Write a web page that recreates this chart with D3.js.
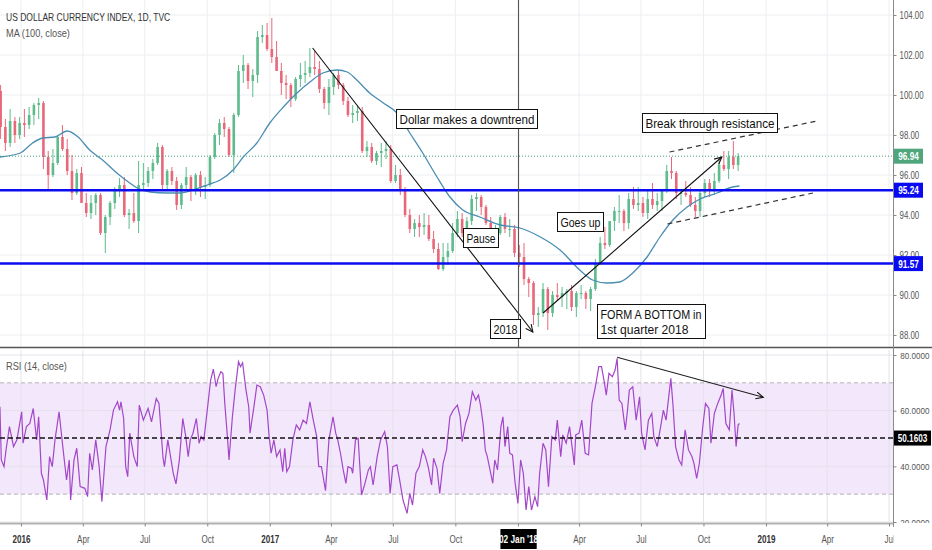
<!DOCTYPE html>
<html>
<head>
<meta charset="utf-8">
<script src="https://cdn.jsdelivr.net/npm/d3@7"></script>
<style>
  body { margin: 0; background: #fff; }
  svg { display: block; font-family: "Liberation Sans", Arial, sans-serif; }
</style>
</head>
<body>
<script>
// weekly candles, weeks start Monday 30 Nov 2015
var firstWeek = "2015-11-30";
var firstOpen = 100.2;
var highs = [100.5,98.8,99.3,98.9,98.9,99.3,99.4,99.6,99.85,99.7,
  97.2,97.3,98.0,98.5,97.8,97.0,96.3,96.4,95.1,95.0,
  95.1,95.1,94.0,94.7,95.4,95.85,95.9,94.3,95.1,96.7,
  96.6,96.4,96.8,97.6,97.5,96.3,96.4,95.9,95.6,96.4,
  96.0,96.1,96.2,95.9,97.0,98.1,98.8,98.9,98.4,99.1,
  101.5,102.0,101.6,101.3,103.2,103.5,103.6,103.85,102.7,101.6,
  101.0,100.6,100.9,101.6,101.7,102.35,102.2,101.7,100.4,100.8,
  101.1,101.2,100.6,99.9,99.5,99.5,99.4,97.7,97.6,97.2,
  97.6,97.7,97.5,96.5,96.3,95.4,94.3,93.8,94.0,94.1,
  94.0,93.2,92.6,92.6,92.6,93.6,94.2,94.1,93.9,95.0,
  95.1,95.0,94.5,93.9,93.5,94.0,94.1,93.8,93.5,92.5,
  92.6,90.9,90.7,89.4,90.6,90.4,90.2,90.6,90.4,90.3,
  90.5,90.2,90.5,90.2,90.4,91.8,92.9,93.4,93.7,94.4,
  95.0,94.3,95.1,95.4,95.4,94.9,95.3,95.6,95.1,95.3,
  96.5,96.9,96.2,95.2,95.7,95.4,94.9,95.2,95.8,95.8,
  96.1,96.9,97.2,97.2,97.7,97.1];
var lows = [97.8,97.2,97.4,97.6,97.8,97.9,98.3,98.5,98.8,96.3,
  95.3,95.9,96.5,97.2,96.0,94.75,95.0,94.6,93.9,93.8,
  94.0,93.0,92.1,93.5,94.3,94.9,93.9,93.3,93.6,93.1,
  95.3,95.4,95.8,96.5,95.3,95.2,95.5,94.25,94.3,95.3,
  94.7,95.0,94.9,94.8,95.4,96.8,97.5,97.9,96.9,96.1,
  98.9,100.6,100.3,99.9,100.6,102.6,102.2,101.6,101.2,100.0,
  99.8,99.4,99.7,100.4,100.6,100.9,101.0,100.1,99.3,99.0,
  100.0,100.3,99.5,98.9,98.6,98.7,97.1,96.9,96.6,96.5,
  96.4,96.8,95.6,95.6,95.0,93.9,93.1,92.9,92.9,93.0,
  92.7,92.1,91.25,91.2,91.5,92.1,92.9,92.9,92.9,93.5,
  94.2,94.0,93.5,92.9,92.9,93.0,93.1,92.9,91.9,91.4,
  90.5,89.9,88.5,88.4,88.9,88.25,88.9,89.7,89.4,89.3,
  89.2,88.9,89.8,89.3,89.2,90.2,91.5,92.3,92.4,93.2,
  93.6,93.2,93.3,94.3,94.2,93.9,93.8,94.3,94.2,94.2,
  95.1,95.8,94.8,94.5,94.9,94.4,93.9,93.9,94.9,94.9,
  95.0,95.6,96.2,95.8,96.3,96.2];
var closes = [98.4,97.6,98.7,98.0,98.6,98.5,99.0,99.5,99.6,96.9,
  96.0,96.6,97.9,97.3,96.2,95.1,96.1,94.6,94.1,94.6,
  95.0,93.1,93.9,94.6,95.3,95.5,94.0,94.1,93.7,95.5,
  95.6,96.2,96.6,97.4,95.5,96.2,95.7,94.5,95.5,95.9,
  95.3,96.0,95.4,95.5,96.9,98.0,98.6,98.3,97.0,99.0,
  101.2,101.5,100.7,101.0,102.9,103.0,102.3,101.9,101.2,100.6,
  100.5,99.8,100.8,101.0,101.1,101.4,101.3,100.3,99.6,100.4,
  101.0,100.5,99.7,99.0,99.1,99.2,97.2,97.4,96.7,97.1,
  97.2,97.3,95.7,96.0,95.2,94.0,93.3,93.6,93.4,93.5,
  92.8,92.3,91.3,91.9,92.2,93.1,93.8,93.1,93.7,94.8,
  94.9,94.4,93.6,93.0,93.1,93.9,93.3,93.3,92.1,91.9,
  90.8,90.6,89.0,89.1,90.3,89.1,90.0,89.9,90.1,90.2,
  89.4,90.1,90.1,89.8,90.3,91.6,92.6,92.5,93.7,94.2,
  94.2,93.6,94.8,94.5,94.6,94.1,94.8,94.5,94.7,95.2,
  96.2,96.1,95.1,95.1,95.0,94.5,94.2,95.1,95.6,95.2,
  95.7,96.5,96.3,96.9,96.5,96.94];

// MA (100, close)
var maPoints = [["2015-12-01",96.9],["2015-12-31",97.1],["2016-01-18",97.6],["2016-02-02",97.85],
  ["2016-02-20",97.9],["2016-03-09",98.2],["2016-03-25",97.9],["2016-04-11",97.25],["2016-04-30",96.75],
  ["2016-05-21",96.1],["2016-06-09",95.6],["2016-06-20",95.35],["2016-07-09",95.15],["2016-08-03",95.1],
  ["2016-08-22",95.1],["2016-09-10",95.25],["2016-10-01",95.5],["2016-10-20",95.75],["2016-11-08",96.25],
  ["2016-11-23",96.9],["2016-12-13",97.6],["2017-01-01",98.6],["2017-01-21",99.4],["2017-02-10",100.1],
  ["2017-03-01",100.65],["2017-03-20",101.1],["2017-04-10",101.25],["2017-04-25",101.15],["2017-05-09",100.75],
  ["2017-05-28",100.1],["2017-06-17",99.6],["2017-07-07",99.1],["2017-07-26",98.1],["2017-08-14",97.1],
  ["2017-09-04",95.9],["2017-09-23",94.9],["2017-10-12",94.25],["2017-11-06",93.9],["2017-12-06",93.5],
  ["2018-01-04",93.35],["2018-02-03",92.9],["2018-03-04",92.25],["2018-04-02",91.25],["2018-04-21",90.75],
  ["2018-05-12",90.6],["2018-05-31",90.65],["2018-06-19",91.1],["2018-07-10",91.9],["2018-07-29",92.9],
  ["2018-08-17",93.75],["2018-09-07",94.4],["2018-09-26",94.8],["2018-10-21",95.1],["2018-11-13",95.4],
  ["2018-11-23",95.45]];

// RSI (14, close) turning points
var rsiPoints = [["2015-12-01",61.4],["2015-12-03",42.3],["2015-12-07",39.9],["2015-12-10",45.9],["2015-12-15",54.3],
  ["2015-12-21",47.1],["2015-12-26",49.5],["2016-01-02",59.6],["2016-01-04",48.3],["2016-01-09",54.3],
  ["2016-01-14",55.4],["2016-01-19",60.8],["2016-01-24",49.5],["2016-01-27",57.8],["2016-01-31",37.5],
  ["2016-02-03",35.1],["2016-02-08",27.9],["2016-02-12",43.5],["2016-02-16",39.9],["2016-02-20",49.5],
  ["2016-02-26",59.6],["2016-03-03",45.9],["2016-03-08",35.1],["2016-03-12",42.3],["2016-03-14",27.9],
  ["2016-03-19",42.3],["2016-03-23",46.5],["2016-03-28",32.7],["2016-04-04",32.1],["2016-04-08",29.1],
  ["2016-04-11",44.7],["2016-04-15",38.7],["2016-04-20",49.5],["2016-04-25",39.9],["2016-04-29",27.3],
  ["2016-05-05",47.1],["2016-05-11",53.1],["2016-05-16",60.2],["2016-05-22",63.2],["2016-05-25",60.2],
  ["2016-05-27",63.2],["2016-05-31",57.2],["2016-06-03",39.9],["2016-06-06",36.3],["2016-06-09",51.9],
  ["2016-06-15",43.5],["2016-06-20",39.9],["2016-06-23",62.0],["2016-06-29",56.6],["2016-07-06",60.8],
  ["2016-07-11",56.0],["2016-07-18",64.4],["2016-07-22",62.6],["2016-07-28",42.9],["2016-07-30",39.9],
  ["2016-08-04",49.5],["2016-08-12",37.5],["2016-08-16",33.7],["2016-08-21",42.3],["2016-08-26",57.2],
  ["2016-08-30",51.3],["2016-09-03",43.5],["2016-09-06",49.5],["2016-09-10",51.9],["2016-09-15",57.2],
  ["2016-09-19",48.3],["2016-09-22",50.7],["2016-09-26",49.5],["2016-10-01",60.2],["2016-10-06",71.0],
  ["2016-10-10",74.9],["2016-10-14",68.6],["2016-10-17",71.6],["2016-10-21",74.0],["2016-10-24",73.4],
  ["2016-10-27",62.0],["2016-10-31",49.5],["2016-11-02",42.3],["2016-11-07",57.8],["2016-11-11",67.4],
  ["2016-11-16",77.6],["2016-11-19",75.8],["2016-11-22",77.2],["2016-11-27",67.4],["2016-12-01",61.4],
  ["2016-12-03",51.9],["2016-12-05",55.4],["2016-12-09",62.0],["2016-12-13",69.2],["2016-12-18",68.6],
  ["2016-12-23",65.6],["2016-12-28",60.2],["2016-12-31",50.7],["2017-01-03",44.7],["2017-01-07",49.5],
  ["2017-01-11",43.5],["2017-01-16",45.9],["2017-01-20",38.1],["2017-01-23",46.5],["2017-01-26",38.1],
  ["2017-01-30",39.9],["2017-02-04",49.5],["2017-02-09",54.9],["2017-02-14",53.1],["2017-02-19",56.6],
  ["2017-02-24",55.4],["2017-03-01",63.2],["2017-03-06",56.6],["2017-03-11",50.7],["2017-03-14",39.9],
  ["2017-03-18",39.9],["2017-03-24",31.3],["2017-03-29",49.5],["2017-04-04",57.8],["2017-04-08",51.9],
  ["2017-04-11",49.5],["2017-04-15",44.7],["2017-04-19",38.7],["2017-04-23",33.9],["2017-04-26",39.9],
  ["2017-05-01",39.3],["2017-05-03",37.5],["2017-05-07",49.5],["2017-05-11",50.1],["2017-05-16",29.7],
  ["2017-05-21",33.9],["2017-05-26",38.7],["2017-05-29",39.9],["2017-06-02",33.3],["2017-06-08",43.5],
  ["2017-06-13",49.5],["2017-06-19",52.5],["2017-06-23",47.1],["2017-06-27",30.3],["2017-07-01",39.9],
  ["2017-07-07",40.5],["2017-07-11",35.1],["2017-07-16",27.9],["2017-07-22",23.1],["2017-07-26",30.3],
  ["2017-07-30",26.1],["2017-08-04",37.5],["2017-08-09",39.9],["2017-08-14",45.9],["2017-08-18",43.5],
  ["2017-08-22",39.9],["2017-08-27",33.3],["2017-08-30",42.9],["2017-09-04",39.3],["2017-09-08",30.3],
  ["2017-09-13",41.1],["2017-09-18",45.9],["2017-09-23",57.8],["2017-09-28",60.2],["2017-10-04",62.0],
  ["2017-10-08",57.8],["2017-10-11",48.9],["2017-10-16",55.4],["2017-10-21",59.0],["2017-10-26",66.8],
  ["2017-10-31",63.8],["2017-11-04",65.6],["2017-11-07",62.0],["2017-11-11",54.9],["2017-11-14",45.9],
  ["2017-11-17",43.5],["2017-11-21",38.7],["2017-11-25",33.9],["2017-11-28",42.3],["2017-12-02",38.7],
  ["2017-12-07",54.3],["2017-12-10",57.8],["2017-12-13",47.1],["2017-12-17",54.3],["2017-12-20",44.7],
  ["2017-12-24",44.1],["2017-12-28",33.9],["2018-01-01",26.7],["2018-01-05",42.3],["2018-01-09",37.5],
  ["2018-01-13",24.3],["2018-01-17",32.7],["2018-01-21",24.3],["2018-01-26",29.1],["2018-01-30",25.5],
  ["2018-02-02",37.5],["2018-02-07",48.3],["2018-02-11",45.9],["2018-02-15",32.7],["2018-02-20",50.7],
  ["2018-02-25",49.5],["2018-02-28",56.6],["2018-03-05",43.5],["2018-03-08",51.3],["2018-03-13",48.3],
  ["2018-03-18",54.3],["2018-03-25",40.5],["2018-03-27",51.3],["2018-04-01",51.9],["2018-04-05",56.6],
  ["2018-04-10",44.7],["2018-04-15",44.1],["2018-04-20",62.6],["2018-04-25",68.6],["2018-04-30",75.8],
  ["2018-05-04",75.8],["2018-05-08",70.4],["2018-05-11",65.6],["2018-05-15",73.4],["2018-05-20",72.2],
  ["2018-05-24",74.6],["2018-05-27",78.8],["2018-05-30",63.8],["2018-06-03",62.6],["2018-06-08",53.1],
  ["2018-06-11",59.6],["2018-06-14",67.4],["2018-06-19",68.6],["2018-06-24",56.6],["2018-06-29",65.0],
  ["2018-07-02",51.9],["2018-07-07",45.9],["2018-07-12",56.6],["2018-07-17",59.0],["2018-07-20",50.7],
  ["2018-07-25",47.1],["2018-07-30",54.3],["2018-08-03",60.2],["2018-08-07",56.6],["2018-08-14",71.6],
  ["2018-08-17",62.6],["2018-08-21",47.1],["2018-08-26",42.3],["2018-08-30",40.5],["2018-09-04",53.1],
  ["2018-09-09",45.9],["2018-09-14",43.5],["2018-09-17",41.1],["2018-09-21",35.7],["2018-09-25",41.1],
  ["2018-09-30",54.3],["2018-10-04",62.6],["2018-10-09",60.8],["2018-10-12",48.3],["2018-10-17",59.0],
  ["2018-10-22",62.6],["2018-10-27",65.6],["2018-10-30",68.0],["2018-11-03",55.4],["2018-11-08",53.1],
  ["2018-11-12",67.4],["2018-11-15",59.0],["2018-11-18",47.1],["2018-11-21",54.9],["2018-11-23",55.4]];

var priceTicks = [88, 90, 92, 94, 96, 98, 100, 102, 104];
var rsiTicks = [20, 40, 60, 80];
var dateTicks = ["2016-01-01","2016-04-01","2016-07-01","2016-10-01","2017-01-01","2017-04-01","2017-07-01",
  "2017-10-01","2018-01-01","2018-04-01","2018-07-01","2018-10-01","2019-01-01","2019-04-01","2019-07-01"];
var dateLabels = ["2016","Apr","Jul","Oct","2017","Apr","Jul","Oct","2018","Apr","Jul","Oct","2019","Apr","Jul"];

var supportLevels = [95.24, 91.57];
var lastPrice = 96.94;
var rsiLevel = 50.1603;
var rsiBand = [30, 70];
var cursorDate = "2018-01-02";
var cursorLabel = "02 Jan '18";

// drawings on the chart
var noteLines = [["Dollar makes a downtrend"], ["Pause"], ["Goes up"], ["2018"], ["FORM A BOTTOM in", "1st quarter 2018"], ["Break through resistance"]];
var noteDates = ["2017-07-05", "2017-10-12", "2018-02-27", "2017-11-21", "2018-04-27", "2018-07-03"];
var notePrices = [99.3, 93.33, 94.17, 88.8, 89.55, 99.08];
var trendFrom = [["2017-03-05", 102.35], ["2018-02-07", 89.1], ["2018-08-12", 97.15], ["2018-08-09", 93.55]];
var trendTo = [["2018-01-23", 88.15], ["2018-10-28", 96.9], ["2019-03-17", 98.7], ["2019-03-11", 95.1]];
var trendArrow = [true, true, false, false];
var rsiTrend = [["2018-05-27", 79.2], ["2018-12-28", 64.8]];

// text widths of the note boxes (the picture is squeezed horizontally)
var noteTextW = [[135], [29], [40], [24], [101, 88], [129]];
var noteBoxW = [141, 35, 46, 30, 108, 135];

var parse = d3.utcParse("%Y-%m-%d");
var plotR = 893, mainBottom = 347, rsiTop = 350, rsiBottom = 522;

var x = d3.scaleUtc().domain([parse("2016-01-01"), parse("2019-01-01")]).range([21, 766]);
var y = d3.scaleLinear().domain([88, 104]).range([335, 15]);
var yr = d3.scaleLinear().domain([20, 80]).range([522, 355]);

var svg = d3.select("body").append("svg").attr("width", 932).attr("height", 550);

function squeeze(sel, k) {
  sel.each(function() {
    var w = this.getComputedTextLength();
    if (w > 0) d3.select(this).attr("textLength", w * k).attr("lengthAdjust", "spacingAndGlyphs");
  });
}

var defs = svg.append("defs");
defs.append("clipPath").attr("id", "clipMain").append("rect")
  .attr("x", 0).attr("y", 0).attr("width", plotR).attr("height", mainBottom);
defs.append("clipPath").attr("id", "clipRsi").append("rect")
  .attr("x", 0).attr("y", rsiTop).attr("width", plotR).attr("height", rsiBottom - rsiTop);

var main = svg.append("g").attr("clip-path", "url(#clipMain)");
var rsiG = svg.append("g").attr("clip-path", "url(#clipRsi)");

// grids
main.selectAll(".hg").data(priceTicks).enter().append("line")
  .attr("x1", 0).attr("x2", plotR).attr("y1", function(d) { return y(d); }).attr("y2", function(d) { return y(d); })
  .attr("stroke", "#eceef2");
main.selectAll(".vg").data(dateTicks).enter().append("line")
  .attr("x1", function(d) { return x(parse(d)); }).attr("x2", function(d) { return x(parse(d)); })
  .attr("y1", 0).attr("y2", mainBottom).attr("stroke", "#eceef2");

rsiG.append("rect").attr("x", 0).attr("width", plotR)
  .attr("y", yr(rsiBand[1])).attr("height", yr(rsiBand[0]) - yr(rsiBand[1])).attr("fill", "#f3e7fc");
rsiG.selectAll(".hg").data(rsiTicks).enter().append("line")
  .attr("x1", 0).attr("x2", plotR).attr("y1", function(d) { return yr(d); }).attr("y2", function(d) { return yr(d); })
  .attr("stroke", "#e4e2ea");
rsiG.selectAll(".vg").data(dateTicks).enter().append("line")
  .attr("x1", function(d) { return x(parse(d)); }).attr("x2", function(d) { return x(parse(d)); })
  .attr("y1", rsiTop).attr("y2", rsiBottom).attr("stroke", "#e4e2ea");
rsiG.selectAll(".band").data(rsiBand).enter().append("line")
  .attr("x1", 0).attr("x2", plotR).attr("y1", function(d) { return yr(d); }).attr("y2", function(d) { return yr(d); })
  .attr("stroke", "#b4b4b4").attr("stroke-dasharray", "4,3");

// candles
var candles = closes.map(function(c, i) {
  return {
    date: d3.utcDay.offset(parse(firstWeek), 7 * i + 2),
    open: i ? closes[i - 1] : firstOpen, high: highs[i], low: lows[i], close: c
  };
});
var up = "#5dbb8c", down = "#e8687a";
var cg = main.append("g");
cg.selectAll("line").data(candles).enter().append("line")
  .attr("x1", function(d) { return x(d.date); }).attr("x2", function(d) { return x(d.date); })
  .attr("y1", function(d) { return y(d.high); }).attr("y2", function(d) { return y(d.low); })
  .attr("stroke", function(d) { return d.close >= d.open ? up : down; });
cg.selectAll("rect").data(candles).enter().append("rect")
  .attr("x", function(d) { return x(d.date) - 1.3; }).attr("width", 2.6)
  .attr("y", function(d) { return y(Math.max(d.open, d.close)); })
  .attr("height", function(d) { return Math.max(1, Math.abs(y(d.open) - y(d.close))); })
  .attr("fill", function(d) { return d.close >= d.open ? up : down; });

// MA
main.append("path").datum(maPoints)
  .attr("d", d3.line().curve(d3.curveMonotoneX)
    .x(function(d) { return x(parse(d[0])); }).y(function(d) { return y(d[1]); }))
  .attr("fill", "none").attr("stroke", "#4a8db3").attr("stroke-width", 1.3);

// last price dotted line
main.append("line").attr("x1", 0).attr("x2", plotR).attr("y1", y(lastPrice)).attr("y2", y(lastPrice))
  .attr("stroke", "#3f9f78").attr("stroke-dasharray", "1,2");

// horizontal support lines
main.selectAll(".lvl").data(supportLevels).enter().append("line")
  .attr("x1", 0).attr("x2", plotR).attr("y1", function(d) { return y(d); }).attr("y2", function(d) { return y(d); })
  .attr("stroke", "#0c0cf0").attr("stroke-width", 2.5);

function arrowHead(g, x1, y1, x2, y2) {
  var a = Math.atan2(y2 - y1, x2 - x1), len = 8, s = 0.45;
  var pts = [[x2 - len * Math.cos(a - s), y2 - len * Math.sin(a - s)], [x2, y2],
             [x2 - len * Math.cos(a + s), y2 - len * Math.sin(a + s)]];
  g.append("path").attr("d", d3.line()(pts)).attr("fill", "none").attr("stroke", "#111").attr("stroke-width", 1.1);
}

// trend lines
trendFrom.forEach(function(f, i) {
  var x1 = x(parse(f[0])), y1 = y(f[1]), x2 = x(parse(trendTo[i][0])), y2 = y(trendTo[i][1]);
  var ln = main.append("line").attr("x1", x1).attr("y1", y1).attr("x2", x2).attr("y2", y2)
    .attr("stroke", trendArrow[i] ? "#111" : "#333").attr("stroke-width", trendArrow[i] ? 1.1 : 1.2);
  if (!trendArrow[i]) ln.attr("stroke-dasharray", "5,4");
  else arrowHead(main, x1, y1, x2, y2);
});

// crosshair
var cx = x(parse(cursorDate));
main.append("line").attr("x1", cx).attr("x2", cx).attr("y1", 0).attr("y2", mainBottom)
  .attr("stroke", "#4a4a4a").attr("stroke-width", 1);

// note boxes
noteLines.forEach(function(lines, i) {
  var bx = Math.round(x(parse(noteDates[i]))) + 0.5, by = Math.round(y(notePrices[i])) + 0.5;
  var h = 19 + (lines.length - 1) * 15;
  main.append("rect").attr("x", bx).attr("y", by).attr("width", noteBoxW[i]).attr("height", h)
    .attr("fill", "#fff").attr("stroke", "#111").attr("stroke-width", 1);
  lines.forEach(function(t, j) {
    main.append("text").attr("x", bx + 3).attr("y", by + 14.5 + j * 14.5)
      .attr("font-size", 13.5).attr("fill", "#111")
      .attr("textLength", noteTextW[i][j]).attr("lengthAdjust", "spacingAndGlyphs").text(t);
  });
});

// RSI line
rsiG.append("path").datum(rsiPoints)
  .attr("d", d3.line().x(function(d) { return x(parse(d[0])); }).y(function(d) { return yr(d[1]); }))
  .attr("fill", "none").attr("stroke", "#a347c9").attr("stroke-width", 1.2);
rsiG.append("line").attr("x1", 0).attr("x2", plotR).attr("y1", yr(rsiLevel)).attr("y2", yr(rsiLevel))
  .attr("stroke", "#111").attr("stroke-width", 1.5).attr("stroke-dasharray", "5,3");
(function() {
  var x1 = x(parse(rsiTrend[0][0])), y1 = yr(rsiTrend[0][1]), x2 = x(parse(rsiTrend[1][0])), y2 = yr(rsiTrend[1][1]);
  rsiG.append("line").attr("x1", x1).attr("y1", y1).attr("x2", x2).attr("y2", y2)
    .attr("stroke", "#222").attr("stroke-width", 1.1);
  arrowHead(rsiG, x1, y1, x2, y2);
})();

// pane bottom
svg.append("line").attr("x1", 0).attr("x2", plotR + 0.5).attr("y1", 523.5).attr("y2", 523.5)
  .attr("stroke", "#b0b0b0").attr("stroke-width", 2);

// bottom date axis
var xa = svg.append("g").attr("transform", "translate(0,523.5)")
  .call(d3.axisBottom(x).tickValues(dateTicks.map(parse))
    .tickFormat(function(d, i) { return dateLabels[i]; }).tickSize(3).tickPadding(8));
xa.select(".domain").remove();
xa.attr("font-family", null).attr("font-size", null);
xa.selectAll("line").attr("stroke", "#888");
xa.selectAll("text").attr("font-size", 11.5)
  .attr("fill", function(d, i) { return /^\d{4}$/.test(dateLabels[i]) ? "#333" : "#555"; })
  .attr("font-weight", function(d, i) { return /^\d{4}$/.test(dateLabels[i]) ? "bold" : "normal"; })
  // the crosshair tag sits on top of the label under it
  .attr("display", function(d) { return Math.abs(x(d) - cx) < 20 ? "none" : null; });
squeeze(xa.selectAll("text"), 0.7);

// crosshair date tag
var tag = svg.append("g");
var tagText = tag.append("text").attr("x", cx).attr("y", 543).attr("text-anchor", "middle")
  .attr("font-size", 11.5).attr("font-weight", "bold").attr("fill", "#fff").text(cursorLabel);
squeeze(tagText, 0.72);
var tw = tagText.node().getComputedTextLength() * 0.72;
tag.insert("rect", "text").attr("x", cx - tw / 2 - 4).attr("y", 529).attr("width", tw + 8).attr("height", 20).attr("fill", "#000");

// right axis panel
svg.append("rect").attr("x", plotR + 0.5).attr("y", 0).attr("width", 40).attr("height", 550).attr("fill", "#fff");
svg.append("line").attr("x1", 0).attr("x2", 932).attr("y1", 347.5).attr("y2", 347.5)
  .attr("stroke", "#555").attr("stroke-width", 1.5);
svg.append("line").attr("x1", plotR + 0.5).attr("x2", plotR + 0.5).attr("y1", 0).attr("y2", 527)
  .attr("stroke", "#8a8a8a");

var pa = svg.append("g").attr("transform", "translate(" + (plotR + 0.5) + ",0)")
  .call(d3.axisRight(y).tickValues(priceTicks).tickFormat(d3.format(".2f")).tickSize(3).tickPadding(3));
pa.select(".domain").remove();
pa.attr("font-family", null).attr("font-size", null);
pa.selectAll("line").attr("stroke", "#888");
pa.selectAll("text").attr("font-size", 10.5).attr("fill", "#555");
squeeze(pa.selectAll("text"), 0.75);

var ra = svg.append("g").attr("transform", "translate(" + (plotR + 0.5) + ",0)")
  .call(d3.axisRight(yr).tickValues(rsiTicks).tickFormat(d3.format(".4f")).tickSize(3).tickPadding(3));
ra.select(".domain").remove();
ra.attr("font-family", null).attr("font-size", null);
ra.selectAll("line").attr("stroke", "#888");
// right-aligned so the long labels stay inside the window
ra.selectAll("text").attr("font-size", 9.5).attr("fill", "#555")
  .attr("text-anchor", "end").attr("x", 931 - plotR - 0.5 - 1.5);
squeeze(ra.selectAll("text"), 0.85);
// the pane bottom hides the lower half of 20.0000
svg.append("rect").attr("x", plotR + 1).attr("y", 523).attr("width", 39).attr("height", 27).attr("fill", "#fff");

// value tags on the price axis
function valueTag(yy, txt, color, w) {
  svg.append("rect").attr("x", plotR + 1).attr("y", yy - 7.5).attr("width", w).attr("height", 15).attr("fill", color);
  var t = svg.append("text").attr("x", plotR + 1 + w / 2).attr("y", yy + 4).attr("text-anchor", "middle")
    .attr("font-size", 10.5).attr("font-weight", "bold").attr("fill", "#fff").text(txt);
  squeeze(t, 0.78);
}
valueTag(y(lastPrice), d3.format(".2f")(lastPrice), "#4fa67c", 29);
supportLevels.forEach(function(v) { valueTag(y(v), d3.format(".2f")(v), "#0a0af2", 29); });
valueTag(yr(rsiLevel), d3.format(".4f")(rsiLevel), "#000", 37);

// legends
var t1 = svg.append("text").attr("x", 6).attr("y", 21).attr("font-size", 11.5).attr("fill", "#333")
  .text("US DOLLAR CURRENCY INDEX, 1D, TVC");
squeeze(t1, 0.74);
var t2 = svg.append("text").attr("x", 6).attr("y", 37).attr("font-size", 11.5).attr("fill", "#555")
  .text("MA (100, close)");
squeeze(t2, 0.8);
var t3 = svg.append("text").attr("x", 6).attr("y", 370).attr("font-size", 11.5).attr("fill", "#555")
  .text("RSI (14, close)");
squeeze(t3, 0.8);
</script>
</body>
</html>
